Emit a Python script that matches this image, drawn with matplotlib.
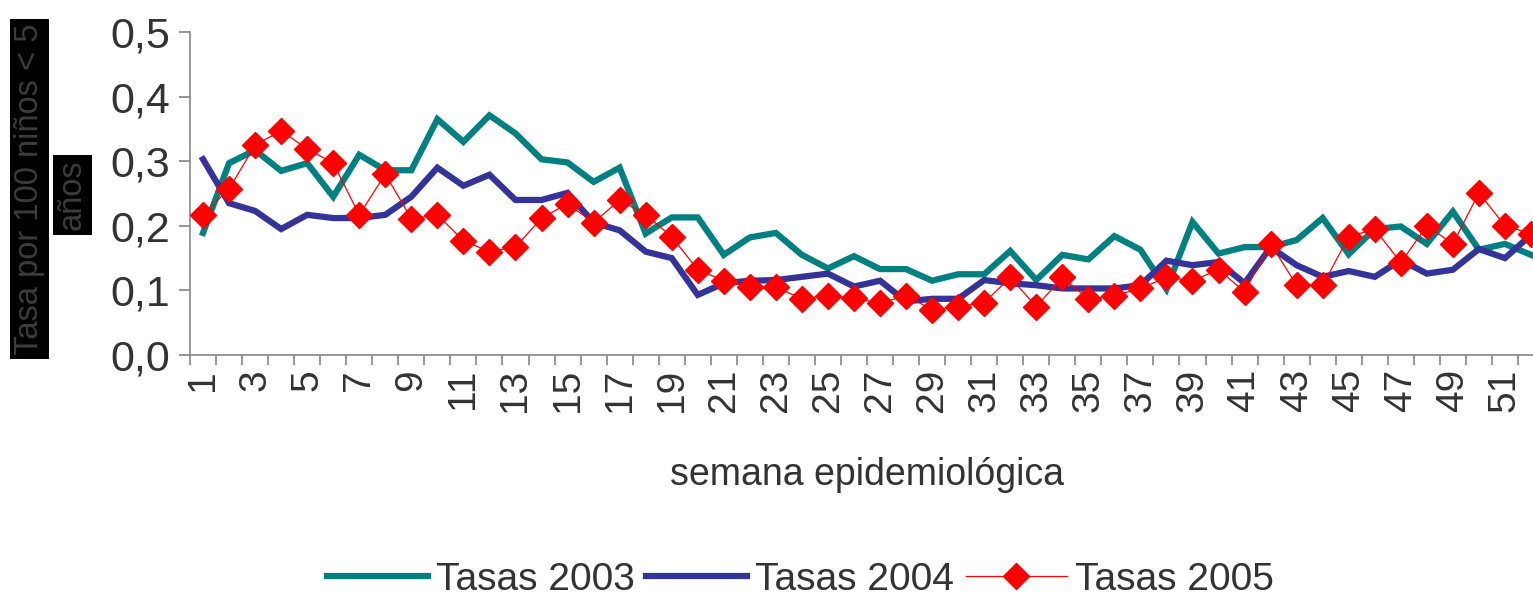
import numpy as np
import matplotlib
matplotlib.use("Agg")
import matplotlib.pyplot as plt
from matplotlib.ticker import FixedLocator, FuncFormatter

plt.rcParams["font.family"] = ["Liberation Sans", "DejaVu Sans"]

weeks = list(range(1, 53))

tasas_2003 = [0.189, 0.297, 0.317, 0.285, 0.297, 0.245, 0.310, 0.286, 0.286, 0.365,
              0.330, 0.371, 0.343, 0.303, 0.298, 0.268, 0.290, 0.188, 0.213, 0.213,
              0.155, 0.182, 0.189, 0.155, 0.134, 0.153, 0.133, 0.133, 0.115, 0.125,
              0.125, 0.161, 0.116, 0.155, 0.148, 0.184, 0.163, 0.102, 0.206, 0.157,
              0.167, 0.167, 0.178, 0.212, 0.156, 0.195, 0.199, 0.172, 0.222, 0.163,
              0.172, 0.155]

tasas_2004 = [0.303, 0.235, 0.223, 0.195, 0.217, 0.212, 0.212, 0.217, 0.245, 0.290,
              0.262, 0.279, 0.240, 0.240, 0.251, 0.205, 0.193, 0.160, 0.150, 0.093,
              0.111, 0.115, 0.116, 0.121, 0.126, 0.106, 0.115, 0.083, 0.087, 0.087,
              0.116, 0.111, 0.108, 0.103, 0.103, 0.103, 0.108, 0.146, 0.139, 0.144,
              0.111, 0.167, 0.139, 0.121, 0.130, 0.121, 0.147, 0.126, 0.132, 0.164,
              0.150, 0.186]

tasas_2005 = [0.217, 0.257, 0.325, 0.347, 0.319, 0.297, 0.217, 0.280, 0.211, 0.217,
              0.177, 0.160, 0.167, 0.212, 0.234, 0.205, 0.240, 0.217, 0.183, 0.132,
              0.115, 0.105, 0.105, 0.087, 0.092, 0.088, 0.080, 0.092, 0.070, 0.075,
              0.081, 0.120, 0.075, 0.120, 0.087, 0.092, 0.103, 0.120, 0.115, 0.132,
              0.098, 0.172, 0.108, 0.108, 0.183, 0.195, 0.143, 0.200, 0.172, 0.251,
              0.200, 0.188]

y_ticks = [0.0, 0.1, 0.2, 0.3, 0.4, 0.5]
x_labels = weeks[::2]

text_col = "#333333"
axis_col = "#868686"

fig = plt.figure(figsize=(15.33, 6.01), dpi=100)
ax = fig.add_axes([190 / 1533, 246 / 601, 1354 / 1533, 323 / 601])

ax.plot(weeks, tasas_2003, color="#008080", lw=4.5, label="Tasas 2003", zorder=2,
        solid_joinstyle="miter")
ax.plot(weeks, tasas_2004, color="#333399", lw=4.5, label="Tasas 2004", zorder=3,
        solid_joinstyle="miter")
ax.plot(weeks, tasas_2005, color="#FF0000", lw=0.9, marker="D", ms=13,
        mec="#FF0000", mfc="#FF0000", label="Tasas 2005", zorder=4)

ax.set_xlim(0.5, 52.5)
ax.set_ylim(0, 0.5)
ax.set_yticks(y_ticks)
ax.yaxis.set_major_formatter(FuncFormatter(lambda v, p: ("%.1f" % v).replace(".", ",")))
ax.set_xticks(x_labels)
ax.set_xticklabels([str(w) for w in x_labels], rotation=90)
ax.xaxis.set_minor_locator(FixedLocator(np.arange(0.5, 53, 1)))

for side in ["top", "right"]:
    ax.spines[side].set_visible(False)
for side in ["left", "bottom"]:
    ax.spines[side].set_color(axis_col)
    ax.spines[side].set_linewidth(1.2)

ax.tick_params(axis="y", length=8, width=1.2, color=axis_col, labelsize=31,
               labelcolor=text_col, pad=6)
ax.tick_params(axis="x", which="major", length=0, labelsize=28, labelcolor=text_col, pad=10)
ax.tick_params(axis="x", which="minor", length=7, width=1.2, color=axis_col)

ax.set_xlabel("semana epidemiológica", fontsize=27, color=text_col, labelpad=32)

# y label split in two black boxes, like the original
fig.text(29.5 / 1533, 412 / 601, "Tasa por 100 niños < 5", rotation=90, fontsize=23.5,
         color="#3c3c3c", ha="center", va="center",
         bbox=dict(facecolor="black", edgecolor="none", pad=3))
fig.text(72.5 / 1533, 406 / 601, "años", rotation=90, fontsize=23.5,
         color="#3c3c3c", ha="center", va="center",
         bbox=dict(facecolor="black", edgecolor="none", pad=3))

leg = fig.legend(loc="center", bbox_to_anchor=(0.522, 0.035), ncol=3,
                 frameon=False, fontsize=28, handlelength=2.6, handletextpad=0.2,
                 columnspacing=0.3, labelcolor=text_col)

fig.savefig("out.png", dpi=100)
